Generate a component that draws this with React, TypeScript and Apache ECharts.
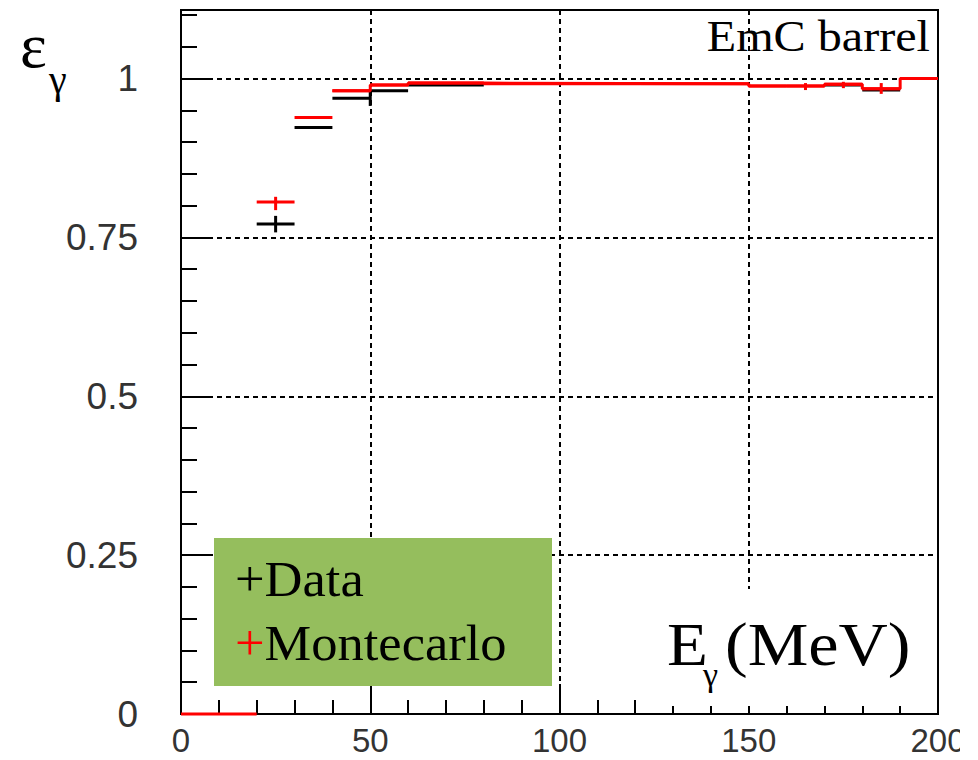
import React, { useEffect, useRef } from "react";
import * as echarts from "echarts";

// ---- data ----
const xTicks = [0, 50, 100, 150, 200];
const yTicks = [0, 0.25, 0.5, 0.75, 1];

// Data (black) bins
const dataLow = [20, 30, 40, 50, 60, 170, 180];
const dataHigh = [30, 40, 50, 60, 80, 180, 190];
const dataEff = [0.771, 0.923, 0.969, 0.981, 0.99, 0.99, 0.982];
// error bars: x, low, high
const dataErrX = [25, 50];
const dataErrLo = [0.758, 0.957];
const dataErrHi = [0.784, 0.981];

// Montecarlo (red) bins
const mcLow = [0, 20, 30, 40, 50, 60, 80, 150, 160, 170, 180, 190];
const mcHigh = [20, 30, 40, 50, 60, 80, 150, 160, 170, 180, 190, 200];
const mcEff = [0, 0.806, 0.939, 0.981, 0.99, 0.993, 0.992, 0.9885, 0.9885, 0.991, 0.984, 1.0];
const mcErrX = [25, 165, 175, 185];
const mcErrLo = [0.793, 0.982, 0.985, 0.976];
const mcErrHi = [0.814, 0.993, 0.995, 0.993];

const SERIF = "'Liberation Serif', 'Times New Roman', serif";
const SANS = "'Liberation Sans', Arial, sans-serif";

function segmentSeries(name: string, low: number[], high: number[], eff: number[], color: string, z: number) {
  return {
    type: "custom",
    name,
    z,
    data: low.map((l, i) => [l, high[i], eff[i]]),
    encode: { x: [0, 1], y: 2 },
    renderItem: (params: any, api: any) => {
      const p0 = api.coord([api.value(0), api.value(2)]);
      const p1 = api.coord([api.value(1), api.value(2)]);
      return {
        type: "line",
        shape: { x1: p0[0], y1: p0[1], x2: p1[0], y2: p1[1] },
        style: { stroke: color, lineWidth: 3 },
      };
    },
  };
}

function errorSeries(name: string, xs: number[], lo: number[], hi: number[], color: string, z: number) {
  return {
    type: "custom",
    name,
    z,
    data: xs.map((x, i) => [x, lo[i], hi[i]]),
    encode: { x: 0, y: [1, 2] },
    renderItem: (params: any, api: any) => {
      const p0 = api.coord([api.value(0), api.value(1)]);
      const p1 = api.coord([api.value(0), api.value(2)]);
      return {
        type: "line",
        shape: { x1: p0[0], y1: p0[1], x2: p1[0], y2: p1[1] },
        style: { stroke: color, lineWidth: 3 },
      };
    },
  };
}

export default function App() {
  const ref = useRef<HTMLDivElement>(null);

  useEffect(() => {
    if (!ref.current) return;
    const chart = echarts.init(ref.current, undefined, { renderer: "svg" });

    const mcStep: number[][] = mcLow
      .map((l, i) => [l, mcEff[i]])
      .filter((p) => p[0] >= 40);
    mcStep.push([mcHigh[mcHigh.length - 1], mcEff[mcEff.length - 1]]);

    const option: any = {
      animation: false,
      backgroundColor: "#ffffff",
      grid: {
        left: 181,
        right: 40,
        top: 10,
        bottom: 46,
        show: true,
        borderColor: "#000",
        borderWidth: 2,
        backgroundColor: "transparent",
        containLabel: false,
        outerBoundsMode: "none",
      },
      xAxis: {
        type: "value",
        min: xTicks[0],
        max: xTicks[xTicks.length - 1],
        interval: 50,
        axisLine: { show: true, lineStyle: { color: "#000", width: 2 } },
        axisTick: { show: true, inside: true, length: 30, lineStyle: { color: "#000", width: 2 } },
        minorTick: { show: true, splitNumber: 5, length: 14, lineStyle: { color: "#000", width: 2 } },
        splitLine: { show: true, lineStyle: { color: "#000", width: 2, type: [5, 4] } },
        axisLabel: {
          show: true,
          margin: 10,
          fontFamily: SANS,
          fontSize: 33,
          lineHeight: 33,
          color: "#333",
          formatter: (v: number) => String(v),
        },
      },
      yAxis: {
        type: "value",
        min: 0,
        max: 1.108,
        interval: 0.25,
        axisLine: { show: true, lineStyle: { color: "#000", width: 2 } },
        axisTick: { show: true, inside: true, length: 32, lineStyle: { color: "#000", width: 2 } },
        minorTick: { show: true, splitNumber: 5, length: 16, lineStyle: { color: "#000", width: 2 } },
        splitLine: { show: true, lineStyle: { color: "#000", width: 2, type: [5, 4] } },
        axisLabel: {
          show: true,
          margin: 43,
          fontFamily: SANS,
          fontSize: 37,
          color: "#333",
          showMaxLabel: false,
          formatter: (v: number) => (yTicks.indexOf(v) >= 0 ? String(v) : ""),
        },
      },
      series: [
        segmentSeries("Data", dataLow, dataHigh, dataEff, "#000000", 3),
        errorSeries("DataErr", dataErrX, dataErrLo, dataErrHi, "#000000", 3),
        {
          type: "line",
          name: "MCstep",
          z: 4,
          step: "end",
          data: mcStep,
          showSymbol: false,
          symbol: "none",
          lineStyle: { color: "#ff0000", width: 3 },
        },
        segmentSeries("Montecarlo", mcLow, mcHigh, mcEff, "#ff0000", 4),
        errorSeries("MCErr", mcErrX, mcErrLo, mcErrHi, "#ff0000", 4),
      ],
      graphic: [
        // white box behind axis title
        { type: "rect", z: 1, shape: { x: 655, y: 589, width: 281, height: 117 }, style: { fill: "#ffffff" } },
        // legend box
        { type: "rect", z: 10, shape: { x: 214, y: 538, width: 338, height: 148 }, style: { fill: "#95be5d" } },
        {
          type: "text", z: 11, x: 235, y: 579, scaleX: 1.05,
          style: {
            text: "{p|+}{t|Data}",
            verticalAlign: "middle",
            rich: {
              p: { fill: "#000", fontFamily: SERIF, fontSize: 50 },
              t: { fill: "#000", fontFamily: SERIF, fontSize: 50 },
            },
          },
        },
        {
          type: "text", z: 11, x: 235, y: 643, scaleX: 1.05,
          style: {
            text: "{p|+}{t|Montecarlo}",
            verticalAlign: "middle",
            rich: {
              p: { fill: "#ff0000", fontFamily: SERIF, fontSize: 50 },
              t: { fill: "#000", fontFamily: SERIF, fontSize: 50 },
            },
          },
        },
        // top-right label
        {
          type: "text", z: 11, x: 930, y: 36, scaleX: 1.07,
          style: { text: "EmC barrel", fill: "#000", font: `45px ${SERIF}`, align: "right", verticalAlign: "middle" },
        },
        // y-axis title epsilon_gamma
        {
          type: "text", z: 11, x: 20, y: 45,
          style: { text: "ε", fill: "#000", font: `64px ${SERIF}`, align: "left", verticalAlign: "middle" },
        },
        {
          type: "text", z: 11, x: 49, y: 79,
          style: { text: "γ", fill: "#000", font: `40px ${SERIF}`, align: "left", verticalAlign: "middle" },
        },
        // x-axis title E_gamma (MeV)
        {
          type: "text", z: 11, x: 667, y: 644, scaleX: 1.08,
          style: { text: "E", fill: "#000", font: `62px ${SERIF}`, align: "left", verticalAlign: "middle" },
        },
        {
          type: "text", z: 11, x: 703, y: 674,
          style: { text: "γ", fill: "#000", font: `34px ${SERIF}`, align: "left", verticalAlign: "middle" },
        },
        {
          type: "text", z: 11, x: 725, y: 644, scaleX: 1.1,
          style: { text: "(MeV)", fill: "#000", font: `62px ${SERIF}`, align: "left", verticalAlign: "middle" },
        },
        // cropped right edge of the picture
        { type: "rect", z: 20, shape: { x: 960, y: 0, width: 18, height: 760 }, style: { fill: "#ffffff" } },
      ],
    };

    chart.setOption(option);
    return () => chart.dispose();
  }, []);

  return (
    <div
      ref={ref}
      style={{ position: "fixed", left: 0, top: 0, width: 978, height: 760, background: "#fff" }}
    />
  );
}
